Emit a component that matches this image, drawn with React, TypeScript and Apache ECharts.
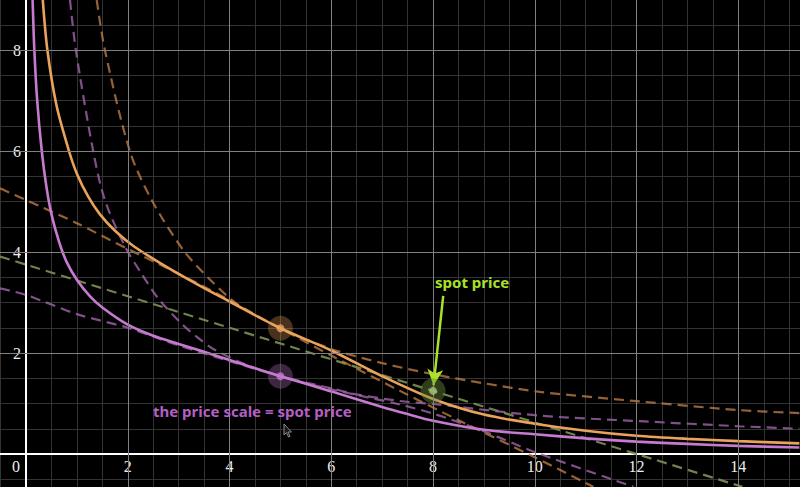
import React, { useEffect, useRef } from "react";
import * as echarts from "echarts";

// ---- data ----
const xMajorTicks = [2, 4, 6, 8, 10, 12, 14];
const yMajorTicks = [2, 4, 6, 8];

const purpleSolid = [[0.13, 8.99], [0.164, 8.0], [0.22, 7.0], [0.31, 6.0], [0.4, 5.3], [0.5, 4.75], [0.65, 4.2], [0.8, 3.8], [1.0, 3.45], [1.25, 3.13], [1.5, 2.9], [2.0, 2.56], [2.5, 2.34], [3.0, 2.18], [3.42, 2.05], [4.0, 1.86], [5.0, 1.54], [6.0, 1.24], [7.0, 0.93], [7.5, 0.79], [8.0, 0.66], [9.0, 0.48], [10.0, 0.39], [11.0, 0.31], [12.0, 0.245], [13.0, 0.2], [14.0, 0.16], [15.2, 0.13]];
const orangeSolid = [[0.33, 8.99], [0.42, 8.0], [0.6, 6.9], [0.845, 6.0], [1.0, 5.55], [1.22, 5.1], [1.45, 4.75], [1.75, 4.42], [2.11, 4.12], [2.77, 3.7], [3.42, 3.33], [4.0, 3.02], [5.0, 2.49], [6.0, 2.05], [7.0, 1.54], [8.0, 1.09], [9.0, 0.78], [10.0, 0.6], [11.0, 0.46], [12.0, 0.36], [13.0, 0.3], [14.0, 0.255], [15.2, 0.21]];
const orangeDashSteep = [[1.39, 8.99], [1.55, 8.0], [2.04, 6.0], [2.47, 5.03], [3.09, 4.04], [3.62, 3.45], [4.21, 2.92], [5.0, 2.49], [6.0, 1.95], [7.35, 1.25], [8.5, 0.67], [9.97, -0.05], [11.15, -0.65]];
const purpleDashSteep = [[0.865, 8.99], [0.98, 8.0], [1.32, 6.0], [1.55, 5.03], [1.95, 4.1], [2.24, 3.62], [2.6, 3.08], [3.09, 2.55], [3.42, 2.27], [3.68, 2.08], [4.3, 1.78], [5.0, 1.54], [6.0, 1.28], [7.35, 0.98], [8.0, 0.8], [9.0, 0.45], [9.97, 0.05], [11.94, -0.65]];
const orangeDashShallow = [[-0.51, 5.26], [0, 5.03], [1.0, 4.57], [2.0, 4.06], [3.0, 3.57], [4.0, 3.05], [5.0, 2.49], [6.0, 2.08], [7.0, 1.8], [8.0, 1.58], [9.0, 1.4], [10.1, 1.23], [12.07, 1.04], [14.0, 0.87], [15.2, 0.81]];
const purpleDashShallow = [[-0.51, 3.28], [0, 3.15], [1.0, 2.77], [2.0, 2.5], [3.0, 2.15], [4.0, 1.84], [5.0, 1.54], [6.0, 1.3], [6.5, 1.18], [7.35, 1.05], [8.0, 0.99], [10.1, 0.76], [12.07, 0.65], [14.0, 0.55], [15.2, 0.5]];
const greenDash = [[-0.51, 3.91], [0, 3.75], [4, 2.5], [8, 1.25], [12, 0], [14.08, -0.65]];

const orangePoint = [[5, 2.49]];
const purplePoint = [[5, 1.54]];
const spotPoint = [[8, 1.25]];
const spotArrow = [[8.2, 3.13], [8.01, 1.36]];

const ORANGE = "#eba35c";
const PURPLE = "#c77bd0";
const ORANGE_D = "rgba(200,130,70,0.75)";
const PURPLE_D = "rgba(160,100,170,0.8)";
const GREEN_D = "rgba(125,145,85,0.9)";

export default function App() {
  const ref = useRef<HTMLDivElement>(null);
  useEffect(() => {
    if (!ref.current) return;
    const chart = echarts.init(ref.current, undefined, { renderer: "svg" });
    const labelStyle = {
      color: "#eeeeee",
      fontFamily: "Liberation Serif",
      fontSize: 16,
      textBorderColor: "#000",
      textBorderWidth: 3,
    };
    const curve = (data: number[][], color: string, dashed: boolean, width: number) => ({
      type: "line",
      data,
      showSymbol: false,
      symbol: "none",
      smooth: 0.3,
      clip: true,
      silent: true,
      z: dashed ? 3 : 4,
      lineStyle: { color, width, type: dashed ? [10, 6] : "solid" },
    });
    const option: any = {
      animation: false,
      backgroundColor: "#000",
      grid: {
        left: -24.88,
        right: -14.64,
        top: -25.75,
        bottom: -17.5,
        containLabel: false,
        outerBoundsMode: "none",
      },
      xAxis: {
        type: "value",
        min: -1,
        max: 15.5,
        interval: 0.5,
        position: "bottom",
        offset: -50.5,
        axisLine: { onZero: false, lineStyle: { color: "#fff", width: 2 } },
        axisTick: { show: false },
        splitLine: { show: true, lineStyle: { color: "#333333", width: 1 } },
        axisLabel: {
          ...labelStyle,
          margin: 4,
          showMinLabel: true,
          showMaxLabel: true,
          formatter: (v: number) => {
            if (v === 0) return "{z|0}";
            return xMajorTicks.includes(v) ? String(v) : "";
          },
          rich: { z: { ...labelStyle, padding: [0, 20, 0, 0] } },
        },
      },
      yAxis: {
        type: "value",
        min: -1,
        max: 9.5,
        interval: 0.5,
        position: "left",
        offset: -50.88,
        axisLine: { onZero: false, lineStyle: { color: "#fff", width: 2 } },
        axisTick: { show: false },
        splitLine: { show: true, lineStyle: { color: "#333333", width: 1 } },
        axisLabel: {
          ...labelStyle,
          margin: 5,
          formatter: (v: number) => (yMajorTicks.includes(v) ? String(v) : ""),
        },
      },
      series: [
        {
          type: "line",
          data: [],
          silent: true,
          z: 1,
          markLine: {
            silent: true,
            symbol: "none",
            label: { show: false },
            animation: false,
            lineStyle: { color: "#808080", width: 1, type: "solid" },
            data: [
              ...xMajorTicks.map((v) => ({ xAxis: v })),
              ...yMajorTicks.map((v) => ({ yAxis: v })),
            ],
          },
        },
        curve(greenDash, GREEN_D, true, 2.2),
        curve(purpleDashShallow, PURPLE_D, true, 2.2),
        curve(orangeDashShallow, ORANGE_D, true, 2.2),
        curve(purpleDashSteep, PURPLE_D, true, 2.2),
        curve(orangeDashSteep, ORANGE_D, true, 2.2),
        curve(purpleSolid, PURPLE, false, 2.6),
        curve(orangeSolid, ORANGE, false, 2.6),
        { type: "scatter", data: orangePoint, symbolSize: 25, itemStyle: { color: "rgba(235,163,92,0.38)" }, silent: true, z: 5 },
        { type: "scatter", data: purplePoint, symbolSize: 25, itemStyle: { color: "rgba(199,123,208,0.38)" }, silent: true, z: 5 },
        { type: "scatter", data: spotPoint, symbolSize: 25, itemStyle: { color: "rgba(110,140,60,0.55)" }, silent: true, z: 5 },
        { type: "scatter", data: orangePoint, symbolSize: 8, itemStyle: { color: ORANGE }, silent: true, z: 6 },
        { type: "scatter", data: purplePoint, symbolSize: 8, itemStyle: { color: PURPLE }, silent: true, z: 6 },
        {
          type: "scatter",
          data: spotPoint,
          symbolSize: 8,
          itemStyle: { color: "#a9c27a" },
          silent: true,
          z: 6,
          markLine: {
            silent: true,
            animation: false,
            label: { show: false },
            symbol: ["none", "arrow"],
            symbolSize: [12, 16],
            lineStyle: { color: "#a8e02a", width: 2.5, type: "solid" },
            data: [[{ coord: spotArrow[0] }, { coord: spotArrow[1] }]],
          },
        },
      ],
      graphic: [
        {
          type: "text",
          left: 435,
          top: 274,
          z: 20,
          style: { text: "spot price", fill: "#a8e02a", font: "bold 15px 'Noto Sans'" },
        },
        {
          type: "text",
          left: 153,
          top: 403,
          z: 20,
          style: { text: "the price scale = spot price", fill: "#b45fc2", font: "bold 15px 'Noto Sans'" },
        },
        {
          type: "polygon",
          z: 20,
          shape: {
            points: [[284, 424], [284, 435], [286.5, 432.5], [288.5, 437], [290, 436.3], [288, 432], [291.5, 432]],
          },
          style: { fill: "#1a1a1a", stroke: "#8a8a8a", lineWidth: 1 },
        },
      ],
    };
    chart.setOption(option);
    return () => chart.dispose();
  }, []);
  return <div ref={ref} style={{ width: 800, height: 487, position: "fixed", left: 0, top: 0 }} />;
}
